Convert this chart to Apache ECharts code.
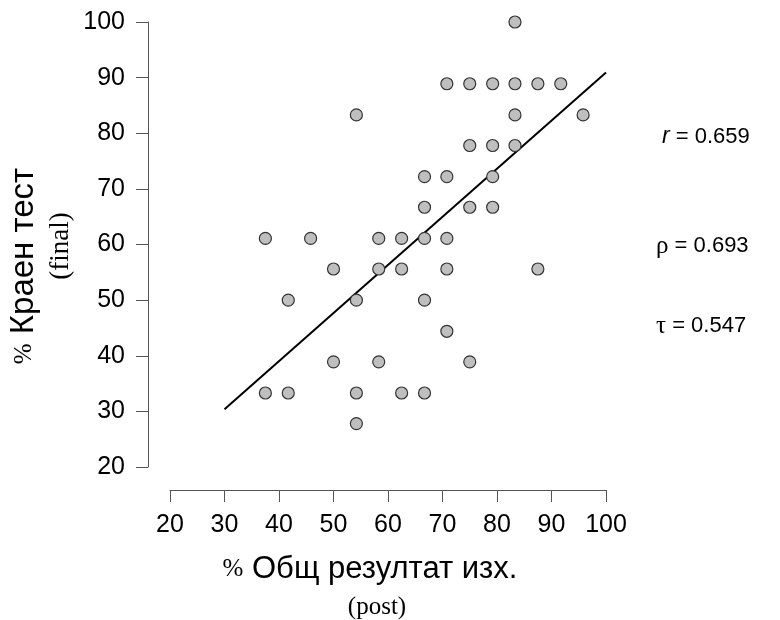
<!DOCTYPE html>
<html>
<head>
<meta charset="utf-8">
<script src="https://cdn.jsdelivr.net/npm/echarts@6/dist/echarts.min.js"></script>
<style>html,body{margin:0;padding:0;background:#fff;}#c{width:780px;height:620px;}</style>
</head>
<body>
<div id="c"></div>
<script>
// Data (x = % post total, y = % final test)
var postX = [83.3, 70.8, 75, 79.2, 83.3, 87.5, 91.7, 54.2, 83.3, 95.8, 75, 79.2, 83.3,
  66.7, 70.8, 79.2, 66.7, 75, 79.2, 37.5, 45.8, 58.3, 62.5, 66.7, 70.8,
  50, 58.3, 62.5, 70.8, 87.5, 41.7, 54.2, 66.7, 70.8, 50, 58.3, 75,
  37.5, 41.7, 54.2, 62.5, 66.7, 54.2];
var finalY = [100, 88.9, 88.9, 88.9, 88.9, 88.9, 88.9, 83.3, 83.3, 83.3, 77.8, 77.8, 77.8,
  72.2, 72.2, 72.2, 66.7, 66.7, 66.7, 61.1, 61.1, 61.1, 61.1, 61.1, 61.1,
  55.6, 55.6, 55.6, 55.6, 55.6, 50, 50, 50, 44.4, 38.9, 38.9, 38.9,
  33.3, 33.3, 33.3, 33.3, 33.3, 27.8];
var fitX = [30, 100];
var fitY = [30.4, 90.9];
var xTicks = [20, 30, 40, 50, 60, 70, 80, 90, 100];
var yTicks = [20, 30, 40, 50, 60, 70, 80, 90, 100];
var statSymbols = ['r', 'ρ', 'τ'];
var statValues = ['0.659', '0.693', '0.547'];

var points = postX.map(function (x, i) { return [x, finalY[i]]; });
var fitLine = fitX.map(function (x, i) { return [x, fitY[i]]; });

var sans = 'Liberation Sans, Arial, sans-serif';
var serif = 'Liberation Serif, Times New Roman, serif';
var axisColor = '#555';

var chart = echarts.init(document.getElementById('c'), null, {renderer: 'canvas'});

var statPos = [[662, 137], [656, 246], [656, 326]];
var statGraphics = statSymbols.map(function (s, i) {
  return {
    type: 'text', x: statPos[i][0], y: statPos[i][1],
    style: {
      text: '{s|' + s + '}{v| = ' + statValues[i] + '}',
      align: 'left', verticalAlign: 'middle',
      rich: {
        s: {fontFamily: i === 0 ? sans : serif, fontStyle: i === 0 ? 'italic' : 'normal', fontSize: i === 0 ? 23 : 25, fill: '#000'},
        v: {fontFamily: sans, fontSize: 22, fill: '#000'}
      }
    }
  };
});

chart.setOption({
  animation: false,
  backgroundColor: '#fff',
  grid: {left: 170, right: 174, top: 22, bottom: 153, containLabel: false},
  xAxis: {
    type: 'value', min: xTicks[0], max: xTicks[xTicks.length - 1], interval: 10,
    offset: 23,
    axisLine: {show: true, lineStyle: {color: axisColor, width: 1}},
    axisTick: {show: true, length: 12, lineStyle: {color: axisColor}},
    axisLabel: {margin: 23, fontSize: 25, fontFamily: sans, color: '#000'},
    splitLine: {show: false}
  },
  yAxis: {
    type: 'value', min: yTicks[0], max: yTicks[yTicks.length - 1], interval: 10,
    offset: 22,
    axisLine: {show: true, lineStyle: {color: axisColor, width: 1}},
    axisTick: {show: true, length: 12, lineStyle: {color: axisColor}},
    axisLabel: {margin: 23, fontSize: 25, fontFamily: sans, color: '#000'},
    splitLine: {show: false}
  },
  series: [
    {
      type: 'line', data: fitLine, symbol: 'none', z: 3,
      lineStyle: {color: '#000', width: 2}
    },
    {
      type: 'scatter', data: points, symbol: 'circle', symbolSize: 12, z: 4,
      itemStyle: {color: '#bfbfbf', borderColor: '#333', borderWidth: 1.2, opacity: 1}
    }
  ],
  graphic: [
    {
      type: 'text', x: 370, y: 569,
      style: {
        text: '{p|%}{t| Общ резултат изх.}', align: 'center', verticalAlign: 'middle',
        rich: {
          p: {fontFamily: serif, fontSize: 25, fill: '#000'},
          t: {fontFamily: sans, fontSize: 31, fill: '#000'}
        }
      }
    },
    {
      type: 'text', x: 377, y: 607,
      style: {text: '(post)', align: 'center', verticalAlign: 'middle', fontFamily: serif, fontSize: 25, fill: '#000'}
    },
    {
      type: 'text', x: 24, y: 266, rotation: Math.PI / 2,
      style: {
        text: '{p|%}{t| Краен тест}', align: 'center', verticalAlign: 'middle',
        rich: {
          p: {fontFamily: serif, fontSize: 25, fill: '#000'},
          t: {fontFamily: sans, fontSize: 33, fill: '#000'}
        }
      }
    },
    {
      type: 'text', x: 61, y: 246, rotation: Math.PI / 2,
      style: {text: '(final)', align: 'center', verticalAlign: 'middle', fontFamily: serif, fontSize: 27, fill: '#000'}
    }
  ].concat(statGraphics)
});
</script>
</body>
</html>
